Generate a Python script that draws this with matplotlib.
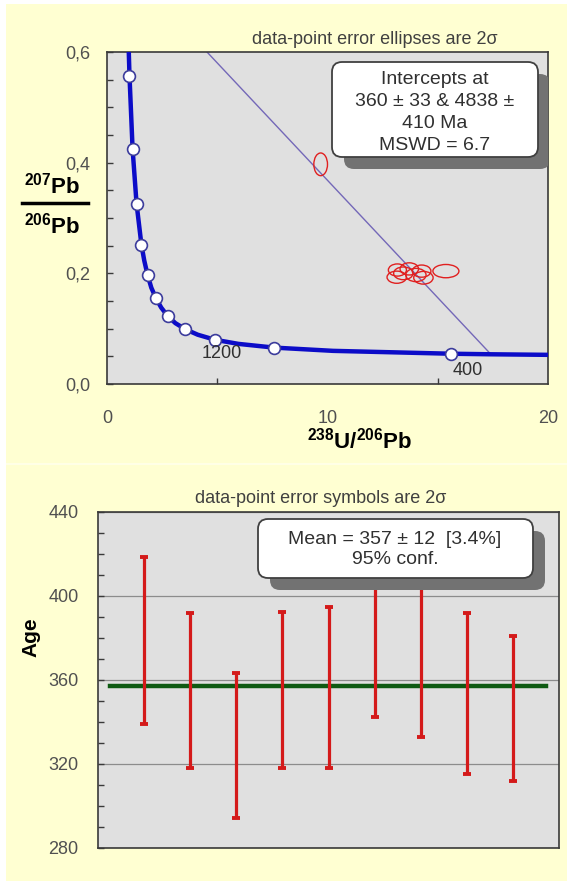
import matplotlib
matplotlib.use("Agg")
import matplotlib.pyplot as plt
from matplotlib.patches import Ellipse, FancyBboxPatch, Rectangle
from matplotlib.lines import Line2D
from matplotlib.ticker import MultipleLocator, FixedLocator, FuncFormatter

plt.rcParams['font.family'] = ['Liberation Sans', 'DejaVu Sans']
plt.rcParams['mathtext.fontset'] = 'custom'
plt.rcParams['mathtext.rm'] = 'Liberation Sans'
plt.rcParams['mathtext.bf'] = 'Liberation Sans:bold'

# --- Tera-Wasserburg plot (top) ---
# concordia curve
conc_x = [0.97, 0.99, 1.02, 1.16, 1.34, 1.56, 1.69, 1.84, 2.01, 2.22, 2.46,
          2.75, 3.10, 3.55, 4.12, 4.89, 5.96, 7.57, 10.25, 15.62, 17.41, 20.0]
conc_y = [0.62, 0.597, 0.557, 0.425, 0.326, 0.252, 0.223, 0.197, 0.174, 0.155, 0.138,
          0.123, 0.110, 0.099, 0.089, 0.080, 0.0725, 0.0658, 0.0599, 0.0547, 0.0537, 0.0527]

# age markers on the concordia (every 400 Ma)
mark_x = [1.02, 1.16, 1.34, 1.56, 1.84, 2.22, 2.75, 3.55, 4.89, 7.57, 15.62]
mark_y = [0.557, 0.425, 0.326, 0.252, 0.197, 0.155, 0.123, 0.099, 0.080, 0.0658, 0.0547]
mark_labels = {8: "1200", 10: "400"}

# discordia between the two intercepts
disc_x = [0.894, 17.41]
disc_y = [0.7545, 0.0537]

# error ellipses: centre, width, height
ell_x = [9.69, 13.17, 13.14, 13.44, 13.71, 14.01, 14.27, 14.35, 15.37]
ell_y = [0.397, 0.206, 0.193, 0.200, 0.208, 0.197, 0.204, 0.192, 0.204]
ell_w = [0.62, 0.82, 0.88, 0.88, 0.84, 0.92, 0.84, 0.88, 1.18]
ell_h = [0.041, 0.022, 0.022, 0.023, 0.022, 0.024, 0.022, 0.023, 0.024]

top_box_lines = ["Intercepts at", "360 \u00b1 33 & 4838 \u00b1", "410 Ma", "MSWD = 6.7"]

# --- weighted mean plot (bottom) ---
spot = [1, 2, 3, 4, 5, 6, 7, 8, 9]
ages = [378.8, 354.9, 329.0, 355.4, 356.6, 380.6, 370.8, 353.6, 346.4]
errs = [39.6, 37.0, 34.5, 37.2, 38.3, 38.0, 38.0, 38.3, 34.4]
mean_age = 357
mean_x = [0.26, 9.72]
bottom_box_lines = ["Mean = 357 \u00b1 12  [3.4%]", "95% conf."]

YELLOW = '#FFFFD2'
PANEL = '#E0E0E0'
SPINE = '#3A3A3A'
TICKTXT = '#505050'

fig = plt.figure(figsize=(5.67, 8.81), dpi=100, facecolor='white')
W, H = 567.0, 881.0


def px_rect(x0, y0, x1, y1):
    # pixel box (top-left origin) -> figure fraction [l, b, w, h]
    return [x0 / W, 1 - y1 / H, (x1 - x0) / W, (y1 - y0) / H]


# yellow slide panels, with a faint seam between them
fig.add_artist(Rectangle((6 / W, 0), 1 - 6 / W, 1 - 4 / H, transform=fig.transFigure,
                         facecolor='#FFFFE6', edgecolor='none', zorder=0))
for r in (px_rect(6, 4, 567, 463), px_rect(6, 465, 567, 881)):
    fig.add_artist(Rectangle((r[0], r[1]), r[2], r[3], transform=fig.transFigure,
                             facecolor=YELLOW, edgecolor='none', zorder=0))


def rounded_box(ax, x0, y0, w, h):
    # white rounded box with grey drop shadow, coords in inches
    tr = fig.dpi_scale_trans
    shadow = FancyBboxPatch((x0 + 0.12, y0 - 0.12), w, h,
                            boxstyle="round,pad=0,rounding_size=0.1",
                            transform=tr, facecolor='#727272', edgecolor='none', zorder=6)
    box = FancyBboxPatch((x0, y0), w, h, boxstyle="round,pad=0,rounding_size=0.1",
                         transform=tr, facecolor='white', edgecolor='#404040',
                         linewidth=1.3, zorder=7)
    ax.add_patch(shadow)
    ax.add_patch(box)


# ---------------- top axes ----------------
ax1 = fig.add_axes(px_rect(107, 52, 548, 384))
ax1.set_facecolor(PANEL)
ax1.set_xlim(0, 20)
ax1.set_ylim(0, 0.6)

ax1.plot(disc_x, disc_y, color='#7468B8', lw=1.0, zorder=2)
ax1.plot(conc_x, conc_y, color='#0C0CC8', lw=3.2, zorder=3, solid_capstyle='butt')
ax1.plot(mark_x, mark_y, 'o', ms=8.5, mfc='white', mec='#3C3C9C', mew=1.2, zorder=4)
for i, lab in mark_labels.items():
    off = (7, -14) if lab == "1200" else (16, -17)
    ax1.annotate(lab, (mark_x[i], mark_y[i]), xytext=off, textcoords='offset pixels',
                 ha='center', va='center', fontsize=13, color='#303030', zorder=5)

for x, y, w, h in zip(ell_x, ell_y, ell_w, ell_h):
    ax1.add_patch(Ellipse((x, y), w, h, fill=False, edgecolor='#E02020', lw=1.0, zorder=5))

rounded_box(ax1, 3.32, (H - 157) / 100, 2.06, 0.95)
for k, line in enumerate(top_box_lines):
    ax1.text(4.35, (H - 80 - 22 * k) / 100, line, transform=fig.dpi_scale_trans,
             ha='center', va='center', fontsize=14, color='#303030', zorder=8)

ax1.xaxis.set_major_locator(FixedLocator([0, 10, 20]))
ax1.xaxis.set_minor_locator(MultipleLocator(5))
ax1.yaxis.set_major_locator(MultipleLocator(0.2))
ax1.yaxis.set_minor_locator(MultipleLocator(0.05))
ax1.yaxis.set_major_formatter(FuncFormatter(lambda v, p: f"{v:.1f}".replace('.', ',')))
ax1.tick_params(axis='both', which='both', direction='in', length=4, width=1,
                color=SPINE, labelsize=13, labelcolor=TICKTXT)
ax1.tick_params(axis='x', which='major', length=0, pad=19)
ax1.tick_params(axis='y', which='major', length=4, pad=12)
for s in ax1.spines.values():
    s.set_color(SPINE)
    s.set_linewidth(1.2)

fig.text(375 / W, 1 - 40 / H, "data-point error ellipses are 2\u03c3", ha='center', va='center',
         fontsize=13, color='#404040')
fig.text(52 / W, 1 - 186 / H, r'$\mathbf{^{207}Pb}$', ha='center', va='center', fontsize=16)
fig.text(52 / W, 1 - 226 / H, r'$\mathbf{^{206}Pb}$', ha='center', va='center', fontsize=16)
fig.add_artist(Line2D([22 / W, 88 / W], [1 - 203 / H, 1 - 203 / H], transform=fig.transFigure,
                      color='black', lw=2.5))
fig.text(360 / W, 1 - 441 / H, r'$\mathbf{^{238}U/^{206}Pb}$', ha='center', va='center',
         fontsize=16)

# ---------------- bottom axes ----------------
ax2 = fig.add_axes(px_rect(98, 512, 559, 848))
ax2.set_facecolor(PANEL)
ax2.set_xlim(0, 10)
ax2.set_ylim(280, 440)

ax2.plot(mean_x, [mean_age, mean_age], color='#0E5A12', lw=3.2, zorder=3)
ax2.errorbar(spot, ages, yerr=errs, fmt='none', ecolor='#D41A1A', elinewidth=2.3,
             capsize=2.6, capthick=2.8, zorder=4)

rounded_box(ax2, 2.58, (H - 578) / 100, 2.75, 0.59)
for k, line in enumerate(bottom_box_lines):
    ax2.text(3.95, (H - 539 - 21 * k) / 100, line, transform=fig.dpi_scale_trans,
             ha='center', va='center', fontsize=14, color='#303030', zorder=8)

ax2.yaxis.set_major_locator(MultipleLocator(40))
ax2.yaxis.set_minor_locator(MultipleLocator(10))
ax2.set_xticks([])
ax2.grid(axis='y', which='major', color='#8C8C8C', lw=0.9, zorder=1)
ax2.set_axisbelow(True)
ax2.tick_params(axis='y', which='both', direction='in', length=4, width=1,
                color=SPINE, labelsize=13, labelcolor=TICKTXT, pad=14)
for s in ax2.spines.values():
    s.set_color(SPINE)
    s.set_linewidth(1.2)

fig.text(321 / W, 1 - 498 / H, "data-point error symbols are 2\u03c3", ha='center', va='center',
         fontsize=13, color='#404040')
fig.text(31 / W, 1 - 637 / H, "Age", rotation=90, ha='center', va='center',
         fontsize=15, fontweight='bold', color='black')

fig.savefig("out.png", dpi=100, facecolor=fig.get_facecolor())
